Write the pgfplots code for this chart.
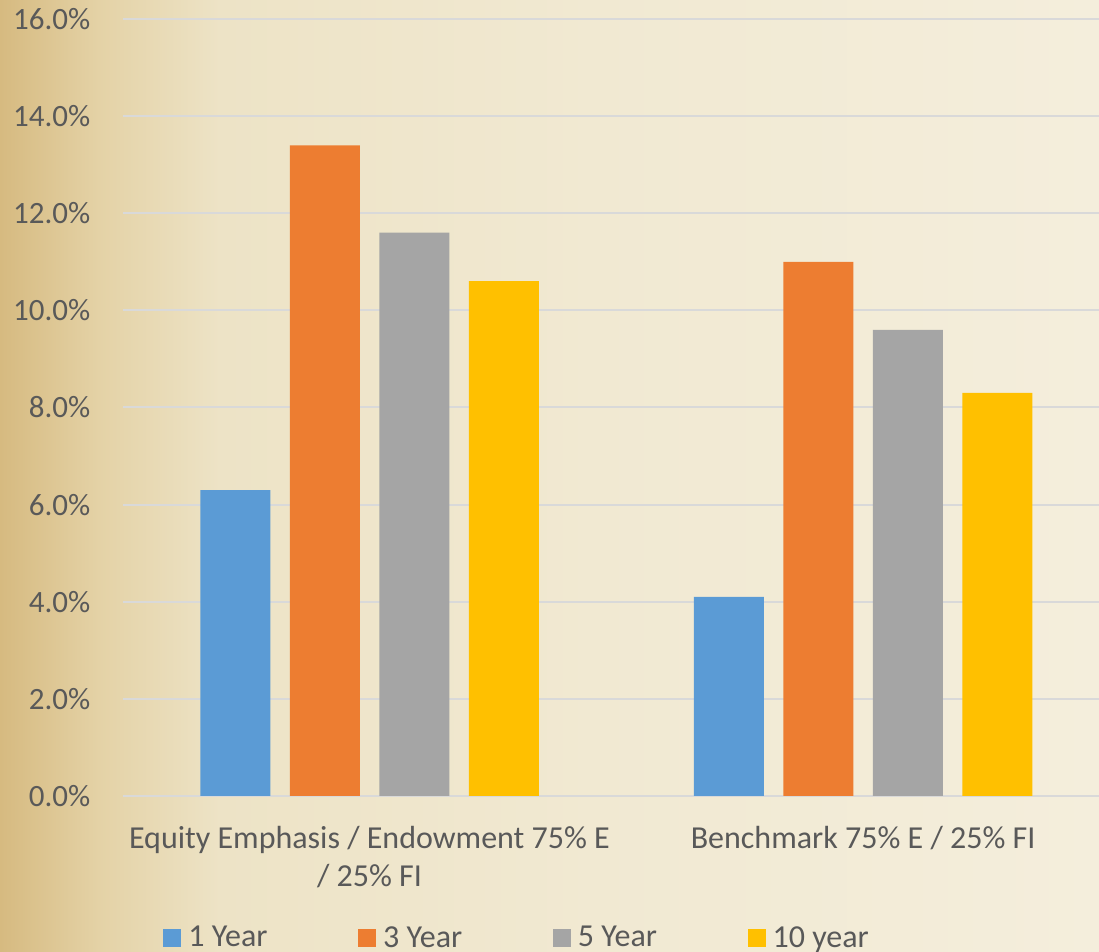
\documentclass[border=0pt]{standalone}
\usepackage{pgfplots}
\pgfplotsset{compat=1.18}
\usepackage{fontspec}
\setmainfont{Carlito}
\definecolor{txt}{HTML}{595959}
\definecolor{gridc}{HTML}{D9D9D9}
\definecolor{c1}{HTML}{5B9BD5}
\definecolor{c2}{HTML}{ED7D31}
\definecolor{c3}{HTML}{A5A5A5}
\definecolor{c4}{HTML}{FFC000}
\definecolor{p1}{HTML}{D6BA80}
\definecolor{p2}{HTML}{E4D2A6}
\definecolor{p3}{HTML}{EDE3C6}
\definecolor{p4}{HTML}{F1E9D2}
\definecolor{p5}{HTML}{F4EEDC}
\pgfdeclarehorizontalshading{parch}{100bp}{color(0bp)=(p1); color(25bp)=(p1); color(29.5bp)=(p2); color(35bp)=(p3); color(52bp)=(p4); color(75bp)=(p5); color(100bp)=(p5)}
\begin{document}
\begin{tikzpicture}[x=1pt,y=1pt]
\shade[shading=parch] (-61.375,-78) rectangle (488.125,398);
\useasboundingbox (-61.375,-78) rectangle (488.125,398);
\begin{axis}[
  at={(0,0)}, anchor=south west,
  scale only axis, width=488.125pt, height=388.5pt,
  xmin=-0.5, xmax=1.478, ymin=0, ymax=16,
  ybar=9.75pt, bar width=35pt,
  axis line style={draw=none},
  major tick length=0pt,
  ymajorgrids, major grid style={draw=gridc, line width=1pt},
  ytick={0,2,4,6,8,10,12,14,16},
  yticklabels={0.0\%,2.0\%,4.0\%,6.0\%,8.0\%,10.0\%,12.0\%,14.0\%,16.0\%},
  yticklabel style={font=\fontsize{15.5}{18}\selectfont, text=txt, inner sep=0pt, xshift=-16pt},
  xtick={0,1},
  xticklabels={{Equity Emphasis / Endowment 75\% E\\/ 25\% FI},{Benchmark 75\% E / 25\% FI}},
  xticklabel style={font=\fontsize{16}{19}\selectfont, text=txt, align=center, inner sep=0pt, anchor=north, yshift=-15pt},
  legend columns=4,
  legend style={at={(0.0412,-0.1830)}, anchor=west, draw=none, fill=none, inner sep=0pt,
    font=\fontsize{16}{19}\selectfont, text=txt,
    nodes={inner sep=0pt},
    /tikz/every odd column/.append style={column sep=3.5pt},
    /tikz/every even column/.append style={column sep=45.3pt}},
  legend image code/.code={\fill[#1] (0pt,-4.5pt) rectangle (9pt,4.5pt);},
]
\addplot[fill=c1, draw=none] coordinates {(0,6.3) (1,4.1)};
\addplot[fill=c2, draw=none] coordinates {(0,13.4) (1,11.0)};
\addplot[fill=c3, draw=none] coordinates {(0,11.6) (1,9.6)};
\addplot[fill=c4, draw=none] coordinates {(0,10.6) (1,8.3)};
\legend{1 Year,3 Year,5 Year,10 year}
\end{axis}
\end{tikzpicture}
\end{document}
